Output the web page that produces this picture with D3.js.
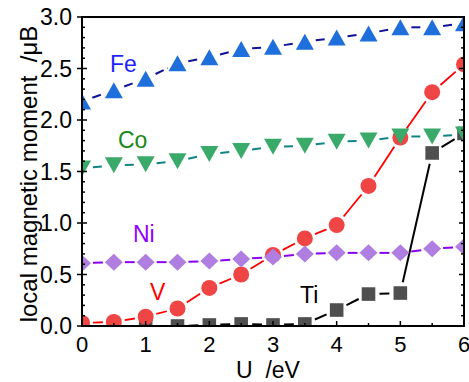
<!DOCTYPE html>
<html><head><meta charset="utf-8">
<script src="https://cdn.jsdelivr.net/npm/d3@7"></script>
<style>body{margin:0;background:#fff}svg{display:block}text{font-family:"Liberation Sans",Arial,sans-serif}</style>
</head><body>
<script>
const U = [0,0.5,1,1.5,2,2.5,3,3.5,4,4.5,5,5.5,6];
const fe = [2.18,2.29,2.40,2.55,2.61,2.69,2.71,2.76,2.80,2.84,2.90,2.90,2.94];
const co = [1.53,1.56,1.57,1.60,1.67,1.70,1.74,1.75,1.79,1.80,1.84,1.84,1.86];
const ni = [0.61,0.62,0.62,0.62,0.63,0.65,0.67,0.70,0.71,0.71,0.71,0.75,0.77];
const v  = [0.03,0.04,0.09,0.17,0.37,0.50,0.69,0.85,0.98,1.36,1.83,2.27,2.54];
const ti = [0.0,0.0,0.0,0.0,0.01,0.02,0.01,0.02,0.155,0.31,0.32,1.68,1.87];
const xTicks = [0,1,2,3,4,5,6];
const yTicks = [0,0.5,1.0,1.5,2.0,2.5,3.0];
const xLabel = "U  /eV";
const yLabel = "local magnetic moment  /\u03bcB";

const W=469,H=382;
const x0=82,x1=464,y0=326,y1=17;
const x=d3.scaleLinear().domain([0,6]).range([x0,x1]);
const y=d3.scaleLinear().domain([0,3]).range([y0,y1]);

const svg=d3.select("body").append("svg").attr("width",W).attr("height",H);
svg.append("defs").append("clipPath").attr("id","clip")
  .append("rect").attr("x",x0).attr("y",y1).attr("width",x1-x0).attr("height",y0-y1);

const series=[
  {name:"Ti",vals:ti,shape:"square",fill:"#4f4f4f",line:"#000",dash:null,lw:2,text:"#000",lx:300,ly:303},
  {name:"V",vals:v,shape:"circle",fill:"#f04545",line:"#ff0000",dash:null,lw:1.8,text:"#ff0000",lx:150,ly:300},
  {name:"Ni",vals:ni,shape:"diamond",fill:"#b07ee0",line:"#8a00f0",dash:null,lw:2,text:"#9000ff",lx:133,ly:242},
  {name:"Co",vals:co,shape:"down",fill:"#3aaa6a",line:"#108585",dash:"9,4",lw:2,text:"#168a16",lx:118,ly:148},
  {name:"Fe",vals:fe,shape:"up",fill:"#1e6fdc",line:"#10109a",dash:"9,4",lw:2,text:"#1f1fff",lx:110,ly:72}
];

function shapePath(s){
  if(s==="square") return "M-6.8,-6.8H6.8V6.8H-6.8Z";
  if(s==="diamond") return "M0,-8.5L9,0L0,8.5L-9,0Z";
  if(s==="up") return "M0,-8L9,8L-9,8Z";
  if(s==="down") return "M0,8L9,-8L-9,-8Z";
  return null;
}

const plot=svg.append("g").attr("clip-path","url(#clip)");
const trim=11;
series.forEach(s=>{
  const g=plot.append("g");
  const pts=U.map((u,i)=>[x(u),y(s.vals[i])]);
  for(let i=0;i<pts.length-1;i++){
    const [ax,ay]=pts[i],[bx,by]=pts[i+1];
    const dx=bx-ax,dy=by-ay,len=Math.hypot(dx,dy);
    if(len<=2*trim) continue;
    const ux=dx/len,uy=dy/len;
    g.append("line").attr("x1",ax+ux*trim).attr("y1",ay+uy*trim)
     .attr("x2",bx-ux*trim).attr("y2",by-uy*trim)
     .attr("stroke",s.line).attr("stroke-width",s.lw)
     .attr("stroke-dasharray",s.dash);
  }
  pts.forEach(p=>{
    if(s.shape==="circle"){
      g.append("circle").attr("cx",p[0]).attr("cy",p[1]).attr("r",8).attr("fill",s.fill);
    } else {
      g.append("path").attr("d",shapePath(s.shape)).attr("transform",`translate(${p[0]},${p[1]})`).attr("fill",s.fill);
    }
  });
});

// frame
svg.append("rect").attr("x",x0).attr("y",y1).attr("width",x1-x0).attr("height",y0-y1)
  .attr("fill","none").attr("stroke","#000").attr("stroke-width",2);

// ticks
const ax=svg.append("g").attr("stroke","#000").attr("stroke-width",1.5);
d3.range(0,3.0001,0.1).forEach(t=>{
  const major=Math.abs(t*2-Math.round(t*2))<1e-6;
  const yy=y(t);
  ax.append("line").attr("x1",x0).attr("x2",x0+(major?5:3)).attr("y1",yy).attr("y2",yy);
  if(major) ax.append("line").attr("x1",x0-5).attr("x2",x0).attr("y1",yy).attr("y2",yy);
  ax.append("line").attr("x1",x1).attr("x2",x1-(major?5:3)).attr("y1",yy).attr("y2",yy);
});
d3.range(0,6.0001,0.5).forEach(t=>{
  const major=Math.abs(t-Math.round(t))<1e-6;
  const xx=x(t);
  ax.append("line").attr("x1",xx).attr("x2",xx).attr("y1",y0).attr("y2",y0-(major?5:3));
});

// tick labels
svg.append("g").selectAll("text").data(yTicks).join("text")
  .attr("x",x0-10).attr("y",d=>y(d)).attr("dy","0.36em").attr("text-anchor","end")
  .attr("font-size",23).attr("fill","#000").text(d=>d.toFixed(1));
svg.append("g").selectAll("text").data(xTicks).join("text")
  .attr("x",d=>x(d)).attr("y",352).attr("text-anchor","middle")
  .attr("font-size",22).attr("fill","#000").text(d=>d);

// axis titles
svg.append("text").attr("x",268).attr("y",378).attr("text-anchor","middle")
  .attr("font-size",23).style("white-space","pre").text(xLabel);
svg.append("text").attr("transform",`translate(37,${(15+333)/2}) rotate(-90)`)
  .attr("text-anchor","middle").attr("font-size",24).style("white-space","pre").text(yLabel);

// series labels
series.forEach(s=>{
  svg.append("text").attr("x",s.lx).attr("y",s.ly).attr("font-size",23)
    .attr("fill",s.text).text(s.name);
});
</script>
</body></html>
